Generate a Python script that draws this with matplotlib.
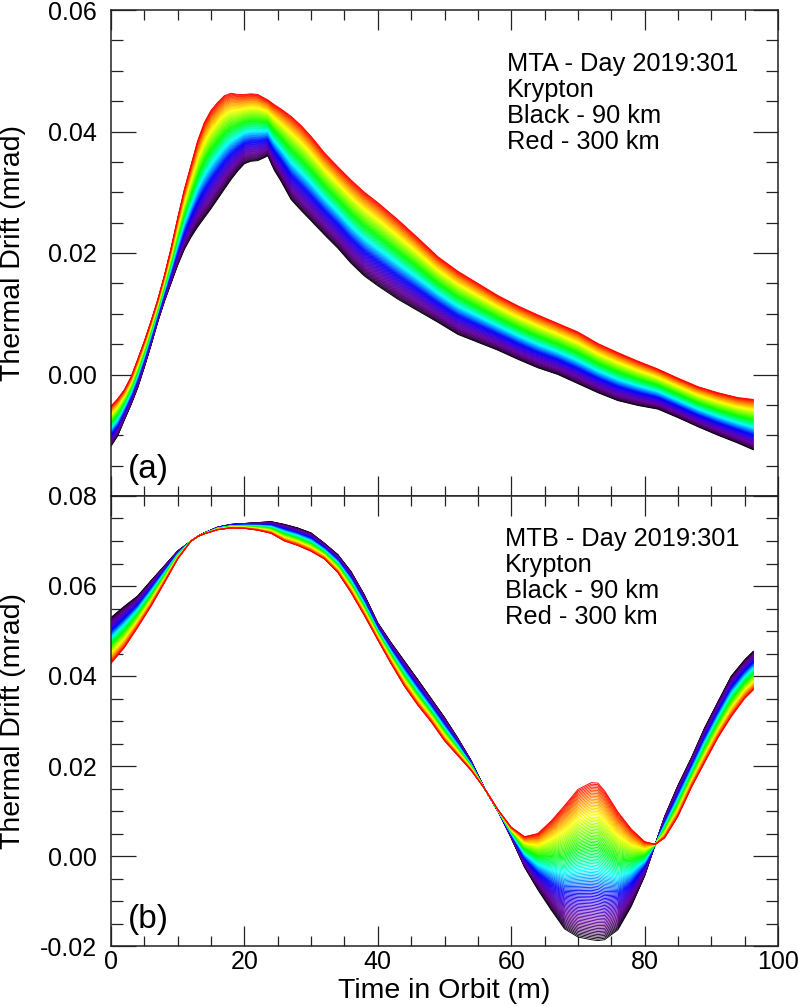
import numpy as np
import matplotlib
matplotlib.use('Agg')
import matplotlib.pyplot as plt
from matplotlib.colors import LinearSegmentedColormap
from matplotlib.ticker import MultipleLocator, FormatStrFormatter

plt.rcParams['font.family'] = ['Liberation Sans', 'DejaVu Sans']
plt.rcParams['axes.unicode_minus'] = False

# ---------------- data ----------------
# Panel (a): MTA
time_a = [0, 1, 2, 3, 4, 5, 6, 7, 8, 9, 10, 11, 12, 13, 14, 15, 16, 17, 18, 19, 20,
          21, 22, 23, 23.5, 24.5, 25.5, 27, 28.5, 30, 32, 34, 36, 38, 40, 43, 46, 49,
          52, 55, 58, 61, 64, 67, 70, 73, 76, 79, 82, 85, 88, 91, 94, 96.3]
black_a = [-0.0118, -0.0101, -0.0075, -0.0050, -0.0022, 0.0012, 0.0048, 0.0086, 0.0120,
           0.0150, 0.0180, 0.0206, 0.0226, 0.0243, 0.0258, 0.0273, 0.0289, 0.0305, 0.0321,
           0.0335, 0.0347, 0.0351, 0.0352, 0.0357, 0.0360, 0.0336, 0.0318, 0.0288, 0.0270,
           0.0253, 0.0230, 0.0208, 0.0183, 0.0162, 0.0146, 0.0124, 0.0105, 0.0086, 0.0066,
           0.0053, 0.0040, 0.0025, 0.0011, 0.0000, -0.0015, -0.0030, -0.0043, -0.0051,
           -0.0057, -0.0071, -0.0086, -0.0100, -0.0113, -0.0124]
red_a = [-0.0052, -0.0040, -0.0025, -0.0004, 0.0025, 0.0055, 0.0088, 0.0123, 0.0163,
         0.0208, 0.0258, 0.0305, 0.0345, 0.0385, 0.0415, 0.0435, 0.0448, 0.0459, 0.0463,
         0.0461, 0.0461, 0.0462, 0.0461, 0.0455, 0.0452, 0.0444, 0.0437, 0.0425, 0.0410,
         0.0392, 0.0365, 0.0342, 0.0320, 0.0300, 0.0283, 0.0255, 0.0225, 0.0194, 0.0170,
         0.0150, 0.0130, 0.0113, 0.0098, 0.0084, 0.0070, 0.0051, 0.0036, 0.0022, 0.0009,
         -0.0006, -0.0020, -0.0030, -0.0038, -0.0041]

# Panel (b): MTB
time_b = [0, 2, 4, 6, 8, 10, 12, 13, 14, 16, 18, 20, 22, 24, 26, 28, 30, 32, 34, 36, 38,
          40, 42, 44, 46, 48, 50, 52, 54, 56, 58, 60, 62, 64, 66, 68, 70, 72, 73, 74, 76,
          78, 80, 81.6, 83, 85, 87, 89, 91, 93, 95, 96.3]
black_b = [0.0530, 0.0555, 0.0578, 0.0612, 0.0645, 0.0678, 0.0700, 0.0710, 0.0718, 0.0731,
           0.0737, 0.0739, 0.0741, 0.0743, 0.0737, 0.0729, 0.0718, 0.0695, 0.0670, 0.0632,
           0.0580, 0.0518, 0.0474, 0.0433, 0.0392, 0.0350, 0.0308, 0.0262, 0.0212, 0.0150,
           0.0100, 0.0040, -0.0025, -0.0075, -0.0120, -0.0162, -0.0180, -0.0186, -0.0188,
           -0.0186, -0.0164, -0.0112, -0.0045, 0.0026, 0.0088, 0.0157, 0.0218, 0.0285,
           0.0343, 0.0400, 0.0436, 0.0455]
red_b = [0.0428, 0.0463, 0.0508, 0.0555, 0.0607, 0.0660, 0.0700, 0.0710, 0.0716, 0.0725,
         0.0729, 0.0728, 0.0724, 0.0717, 0.0700, 0.0690, 0.0677, 0.0660, 0.0630, 0.0585,
         0.0534, 0.0480, 0.0427, 0.0377, 0.0335, 0.0298, 0.0256, 0.0223, 0.0190, 0.0150,
         0.0103, 0.0064, 0.0043, 0.0050, 0.0078, 0.0112, 0.0148, 0.0163, 0.0162, 0.0145,
         0.0098, 0.0060, 0.0032, 0.0026, 0.0040, 0.0088, 0.0152, 0.0208, 0.0263, 0.0310,
         0.0350, 0.0369]

# altitudes of the curve family (black = 90 km, red = 300 km)
altitudes = list(range(90, 301, 2))

info_a = ["MTA - Day 2019:301", "Krypton", "Black - 90 km", "Red - 300 km"]
info_b = ["MTB - Day 2019:301", "Krypton", "Black - 90 km", "Red - 300 km"]
panel_labels = ["(a)", "(b)"]

xlabel = "Time in Orbit (m)"
ylabel = "Thermal Drift (mrad)"

# ---------------- style ----------------
cmap = LinearSegmentedColormap.from_list("idl_rainbow", [
    (0.00, (0.0, 0.0, 0.0)),
    (0.04, (0.22, 0.0, 0.32)),
    (0.12, (0.40, 0.0, 0.60)),
    (0.22, (0.22, 0.0, 0.85)),
    (0.30, (0.0, 0.0, 1.0)),
    (0.38, (0.0, 0.55, 1.0)),
    (0.45, (0.0, 1.0, 1.0)),
    (0.52, (0.0, 1.0, 0.5)),
    (0.60, (0.0, 1.0, 0.0)),
    (0.72, (0.6, 1.0, 0.0)),
    (0.80, (1.0, 1.0, 0.0)),
    (0.90, (1.0, 0.55, 0.0)),
    (1.00, (1.0, 0.0, 0.0)),
])

W, H = 799, 1007
fig = plt.figure(figsize=(W / 100, H / 100), dpi=100)
left, width = 111 / W, 667 / W
ax1 = fig.add_axes([left, 1 - 496 / H, width, 486 / H])
ax2 = fig.add_axes([left, 1 - 946 / H, width, 450 / H])

TICK_FS = 18
LAB_FS = 20.5
TXT_FS = 18.3


def draw_family(ax, t, black, red):
    t = np.asarray(t)
    b = np.asarray(black)
    r = np.asarray(red)
    alts = np.asarray(altitudes, dtype=float)
    frac = (alts - alts[0]) / (alts[-1] - alts[0])
    for f in frac:
        ax.plot(t, b + f * (r - b), color=cmap(f), lw=0.65)


draw_family(ax1, time_a, black_a, red_a)
draw_family(ax2, time_b, black_b, red_b)

for ax in (ax1, ax2):
    ax.set_xlim(0, 100)
    ax.xaxis.set_major_locator(MultipleLocator(20))
    ax.xaxis.set_minor_locator(MultipleLocator(5))
    ax.yaxis.set_major_locator(MultipleLocator(0.02))
    ax.yaxis.set_minor_locator(MultipleLocator(0.005))
    ax.yaxis.set_major_formatter(FormatStrFormatter('%.2f'))
    ax.tick_params(which='both', direction='in', top=True, right=True,
                   width=0.9, color='#222222')
    ax.tick_params(axis='y', which='major', length=18, pad=10, labelsize=TICK_FS)
    ax.tick_params(axis='y', which='minor', length=8.6)
    ax.tick_params(axis='x', which='major', length=14.4, pad=3, labelsize=TICK_FS)
    ax.tick_params(axis='x', which='minor', length=7.2)
    for s in ax.spines.values():
        s.set_linewidth(1.1)
        s.set_color('#222222')
    ax.set_ylabel(ylabel, fontsize=LAB_FS)
    ax.yaxis.set_label_coords(-0.128, 0.5)

ax1.set_ylim(-0.02, 0.06)
ax2.set_ylim(-0.02, 0.08)
ax1.set_yticks([0.0, 0.02, 0.04, 0.06])
ax1.tick_params(axis='x', labelbottom=False)
ax2.set_xlabel(xlabel, fontsize=LAB_FS, labelpad=3)

# annotation blocks
ya = [0.8735, 0.820, 0.7665, 0.713]
yb = [0.8878, 0.8311, 0.7733, 0.7156]
for s, y in zip(info_a, ya):
    ax1.text(0.593, y, s, transform=ax1.transAxes, fontsize=TXT_FS, va='baseline', ha='left')
for s, y in zip(info_b, yb):
    ax2.text(0.590, y, s, transform=ax2.transAxes, fontsize=TXT_FS, va='baseline', ha='left')

ax1.text(0.026, 0.054, panel_labels[0], transform=ax1.transAxes, fontsize=24,
         va='center', ha='left')
ax2.text(0.026, 0.058, panel_labels[1], transform=ax2.transAxes, fontsize=24,
         va='center', ha='left')

fig.savefig('out.png', dpi=100)
